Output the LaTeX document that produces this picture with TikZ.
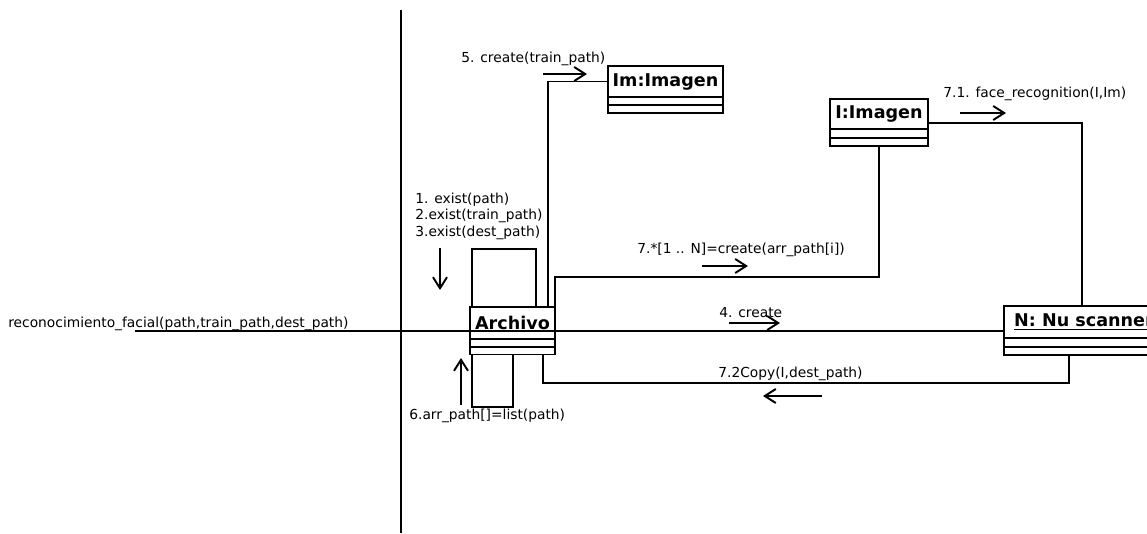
\documentclass[tikz,border=0pt]{standalone}
\usepackage{fontspec}
\setmainfont{DejaVu Sans}
\usetikzlibrary{
    positioning,
    arrows.meta,
    calc,
}
\tikzset{
    % Object boxes
    obj/.style={rectangle, draw, line width=1.1pt, outer sep=0pt, inner sep=1pt,
                font=\fontsize{10}{12}\selectfont\bfseries},
    comp/.style={rectangle, draw, line width=1.1pt, outer sep=0pt, inner sep=0pt},
    % Links and message arrows
    link/.style={line width=1.1pt},
    msg/.style={-{Straight Barb[length=2.2mm, width=2.8mm]}, line width=1.1pt},
    % Message labels
    lbl/.style={font=\fontsize{7.85}{10}\selectfont, inner sep=0pt, anchor=base west},
}

\begin{document}
\begin{tikzpicture}[x=0.2mm, y=-0.2mm]
    \clip (0,0) rectangle (1147,533);

    % System boundary
    \coordinate (top) at (401,10);
    \coordinate (bot) at (401,533);
    \draw[link] (top) -- (bot);

    % Objects
    \node[obj, minimum width=17mm, minimum height=6.4mm] (arch) at (512.5,323) {Archivo};
    \node[comp, minimum width=17mm, minimum height=1.6mm, below=0pt of arch] (arch1) {};
    \node[comp, minimum width=17mm, minimum height=1.5mm, below=0pt of arch1] (arch2) {};

    \node[obj, minimum width=23mm, minimum height=6.2mm] (im) at (665.5,81.5) {Im:Imagen};
    \node[comp, minimum width=23mm, minimum height=1.6mm, below=0pt of im] (im1) {};
    \node[comp, minimum width=23mm, minimum height=1.6mm, below=0pt of im1] (im2) {};

    \node[obj, minimum width=19.6mm, minimum height=6mm] (img) at (879,114) {I:Imagen};
    \node[comp, minimum width=19.6mm, minimum height=1.8mm, below=0pt of img] (img1) {};
    \node[comp, minimum width=19.6mm, minimum height=1.6mm, below=0pt of img1] (img2) {};

    \node[obj, minimum width=32mm, minimum height=6.4mm] (nu) at (1084,322) {\underline{N: Nu scanner}};
    \node[comp, minimum width=32mm, minimum height=1.8mm, below=0pt of nu] (nu1) {};
    \node[comp, minimum width=32mm, minimum height=1.6mm, below=0pt of nu1] (nu2) {};

    % Incoming call and main link
    \coordinate (in) at (135,331);
    \draw[link] (in) -- (in -| arch.west);
    \draw[link] (in -| arch.west) -- (in -| nu.west);

    % Self links on Archivo
    \draw[link] (472,0 |- arch.north) |- (536,249) -- (536,0 |- arch.north);
    \draw[link] (472,0 |- arch2.south) |- (513,407) -- (513,0 |- arch2.south);

    % Links to the other objects
    \draw[link] (548,0 |- arch.north) |- (im.west);
    \draw[link] (arch.north east) |- (879,277) -- (img2.south);
    \draw[link] (img.east |- 0,123) -| (1082,0 |- nu.north);
    \draw[link] (543,0 |- arch2.south) |- (1069,383) -- (1069,0 |- nu2.south);

    % Message labels
    \node[lbl] (m0) at (8,327) {reconocimiento\_facial(path,train\_path,dest\_path)};
    \node[lbl] (m5) at (461,62) {5. create(train\_path)};
    \node[lbl] (m1) at (415,203) {1. exist(path)};
    \node[lbl] (m2) at (415,219.5) {2.exist(train\_path)};
    \node[lbl] (m3) at (415,236.5) {3.exist(dest\_path)};
    \node[lbl] (m6) at (409,419) {6.arr\_path[]=list(path)};
    \node[lbl] (m7) at (637,253) {7.*[1 .. N]=create(arr\_path[i])};
    \node[lbl] (m71) at (943,97) {7.1. face\_recognition(I,Im)};
    \node[lbl] (m4) at (719,317) {4. create};
    \node[lbl] (m72) at (718,377) {7.2Copy(I,dest\_path)};

    % Message arrows
    \coordinate (a5) at (543,74);
    \coordinate (a1) at (440,248);
    \coordinate (a6) at (461,405);
    \coordinate (a7) at (702,266);
    \coordinate (a71) at (960,113);
    \coordinate (a4) at (729,323);
    \coordinate (a72) at (822,396);
    \draw[msg] (a5) -- ++(44,0);
    \draw[msg] (a1) -- ++(0,42);
    \draw[msg] (a6) -- ++(0,-47);
    \draw[msg] (a7) -- ++(46,0);
    \draw[msg] (a71) -- ++(46,0);
    \draw[msg] (a4) -- ++(51,0);
    \draw[msg] (a72) -- ++(-59,0);
\end{tikzpicture}
\end{document}
